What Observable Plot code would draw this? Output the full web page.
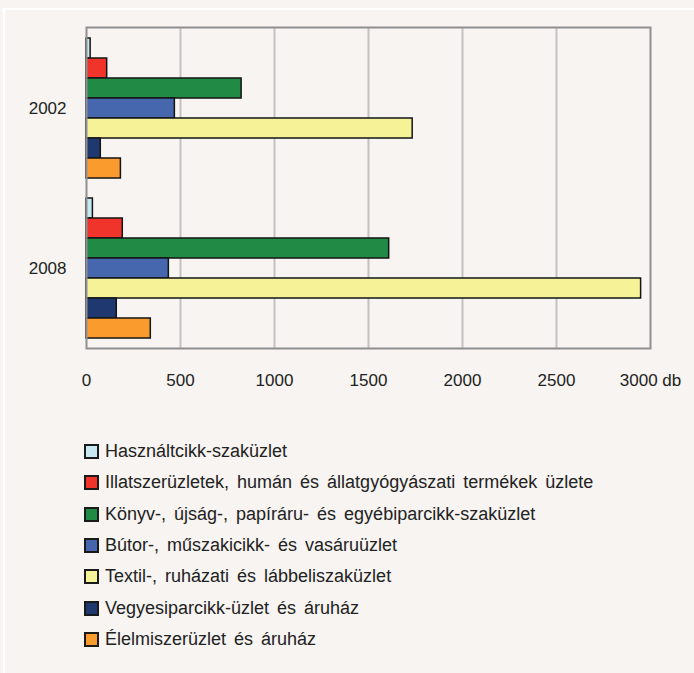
<!DOCTYPE html>
<html>
<head>
<meta charset="utf-8">
<script src="https://cdn.jsdelivr.net/npm/d3@7"></script>
<script src="https://cdn.jsdelivr.net/npm/@observablehq/plot@0.6"></script>
<style>
  html, body { margin: 0; padding: 0; }
  body { width: 694px; height: 673px; background: #f7f4f1; position: relative; overflow: hidden;
         font-family: "Liberation Sans", Arial, sans-serif; color: #222; }
  #panel { position: absolute; left: 3px; top: 8px; width: 720px; height: 700px;
           border-left: 2px solid #ffffff; border-top: 2px solid #ffffff; }
  #chart { position: absolute; left: 0; top: 0; }
  #legend { position: absolute; left: 84px; top: 436px; }
  .row { display: flex; align-items: center; height: 31.3px; font-size: 18px; word-spacing: 3px; white-space: nowrap; }
  .sw { width: 11px; height: 11px; border: 2px solid #1a1a1a; margin-right: 6px; flex: none; }
</style>
</head>
<body>
<div id="panel"></div>
<div id="chart"></div>
<div id="legend"></div>
<script>
const years = ["2002", "2008"];
const categories = [
  "Használtcikk-szaküzlet",
  "Illatszerüzletek, humán és állatgyógyászati termékek üzlete",
  "Könyv-, újság-, papíráru- és egyébiparcikk-szaküzlet",
  "Bútor-, műszakicikk- és vasáruüzlet",
  "Textil-, ruházati és lábbeliszaküzlet",
  "Vegyesiparcikk-üzlet és áruház",
  "Élelmiszerüzlet és áruház"
];
const colors = ["#c6e9f1", "#f0332b", "#218a45", "#4666ae", "#f5f298", "#1f3870", "#f99b2d"];
const values2002 = [22, 110, 825, 470, 1735, 76, 183];
const values2008 = [34, 193, 1610, 438, 2950, 161, 342];
const xTicks = [0, 500, 1000, 1500, 2000, 2500, 3000];
const unit = "db";

const series = {"2002": values2002, "2008": values2008};
const rows = [];
for (const yr of years) {
  categories.forEach((c, i) => rows.push({year: yr, category: c, key: `${yr}|${i}`, value: series[yr][i]}));
}
const yDomain = [];
years.forEach((yr, j) => {
  if (j > 0) yDomain.push("gap");
  categories.forEach((c, i) => yDomain.push(`${yr}|${i}`));
});

const chart = Plot.plot({
  width: 694,
  height: 400,
  marginLeft: 86,
  marginRight: 44,
  marginTop: 27,
  marginBottom: 52,
  style: {background: "transparent", fontFamily: "'Liberation Sans', Arial, sans-serif", fontSize: "17px", color: "#222"},
  x: {domain: [0, 3000], label: null},
  y: {domain: yDomain, paddingInner: 0, paddingOuter: 0.4, label: null},
  color: {domain: categories, range: colors},
  marks: [
    Plot.ruleX(xTicks.slice(1, -1), {stroke: "#c2c2c2", strokeWidth: 2}),
    Plot.barX(rows, {x: "value", y: "key", fill: "category", stroke: "#141414", strokeWidth: 1.5, inset: 0}),
    Plot.frame({stroke: "#8f8f8f", strokeWidth: 2}),
    Plot.axisX({ticks: xTicks, tickSize: 0, tickPadding: 25, fontSize: 17, label: null,
      tickFormat: d => d === 3000 ? `${d} ${unit}` : String(d)}),
    Plot.axisY({ticks: years.map(yr => `${yr}|3`), tickSize: 0, tickPadding: 20, fontSize: 17, label: null,
      tickFormat: d => d.split("|")[0]})
  ]
});
document.getElementById("chart").appendChild(chart);

const legend = document.getElementById("legend");
categories.forEach((c, i) => {
  const row = document.createElement("div");
  row.className = "row";
  const sw = document.createElement("span");
  sw.className = "sw";
  sw.style.background = colors[i];
  const label = document.createElement("span");
  label.textContent = c;
  row.appendChild(sw);
  row.appendChild(label);
  legend.appendChild(row);
});
</script>
</body>
</html>
